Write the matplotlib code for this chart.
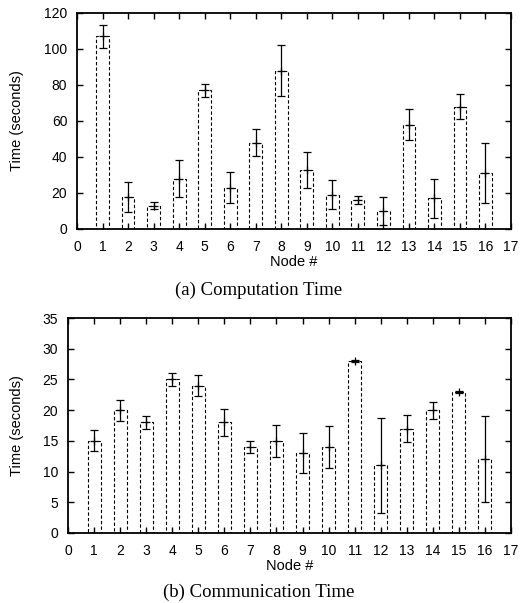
import numpy as np
import matplotlib
matplotlib.use("Agg")
import matplotlib.pyplot as plt

# data
nodes = np.arange(1, 17)

comp_mean = [107, 18, 13, 28, 77, 23, 48, 88, 33, 19, 16, 10, 58, 17, 68, 31]
comp_err = [6.5, 8.3, 1.8, 10.5, 3.5, 8.5, 7.3, 14.3, 10, 8, 2.2, 8, 8.5, 11, 6.8, 16.5]

comm_mean = [15, 20, 18, 25, 24, 18, 14, 15, 13, 14, 28, 11, 17, 20, 23, 12]
comm_err = [1.7, 1.7, 1.0, 1.0, 1.7, 2.2, 1.0, 2.6, 3.2, 3.4, 0.15, 7.8, 2.2, 1.4, 0.15, 7.0]

plt.rcParams['font.family'] = ['Liberation Sans', 'DejaVu Sans']
plt.rcParams['font.size'] = 10

fig = plt.figure(figsize=(5.3, 6.03), dpi=100)
W, H = 530.0, 603.0


def panel(rect, means, errs, yticks, caption, caption_y, xlabel_y):
    ax = fig.add_axes(rect)
    ax.bar(nodes, means, width=0.5, fill=False, edgecolor='black',
           linestyle=(0, (3, 2)), linewidth=0.8)
    ax.errorbar(nodes, means, yerr=errs, fmt='none', ecolor='black',
                elinewidth=0.9, capsize=3, capthick=0.9)
    ax.plot(nodes, means, '+', color='black', markersize=6, markeredgewidth=0.9)
    ax.set_xlim(0, 17)
    ax.set_ylim(yticks[0], yticks[-1])
    ax.set_xticks(range(0, 18))
    ax.set_yticks(yticks)
    ax.tick_params(direction='in', top=True, right=True, length=4, width=1)
    ax.tick_params(axis='x', pad=8)
    ax.tick_params(axis='y', pad=7)
    for s in ax.spines.values():
        s.set_linewidth(1.3)
    ax.set_xlabel('Node #', fontsize=10.5)
    ax.set_ylabel('Time (seconds)', fontsize=10.5)
    yc = 1 - (rect[1] + rect[3] / 2)
    ax.yaxis.set_label_coords(17 / W, rect[1] + rect[3] / 2, transform=fig.transFigure)
    ax.xaxis.set_label_coords(rect[0] + rect[2] / 2, xlabel_y, transform=fig.transFigure)
    ax.xaxis.label.set_va('center')
    ax.yaxis.label.set_va('center')
    fig.text(259 / W, caption_y, caption, ha='center', va='center',
             family=['Liberation Serif', 'DejaVu Serif'], fontsize=13.5)
    return ax


ax1 = panel([77 / W, 1 - 229 / H, (511 - 77) / W, (229 - 13) / H],
            comp_mean, comp_err, list(range(0, 121, 20)),
            '(a) Computation Time', 1 - 290 / H, 1 - 262 / H)
ax2 = panel([68 / W, 1 - 533 / H, (511 - 68) / W, (533 - 318) / H],
            comm_mean, comm_err, list(range(0, 36, 5)),
            '(b) Communication Time', 1 - 592 / H, 1 - 566 / H)

fig.savefig('out.png', dpi=100)
